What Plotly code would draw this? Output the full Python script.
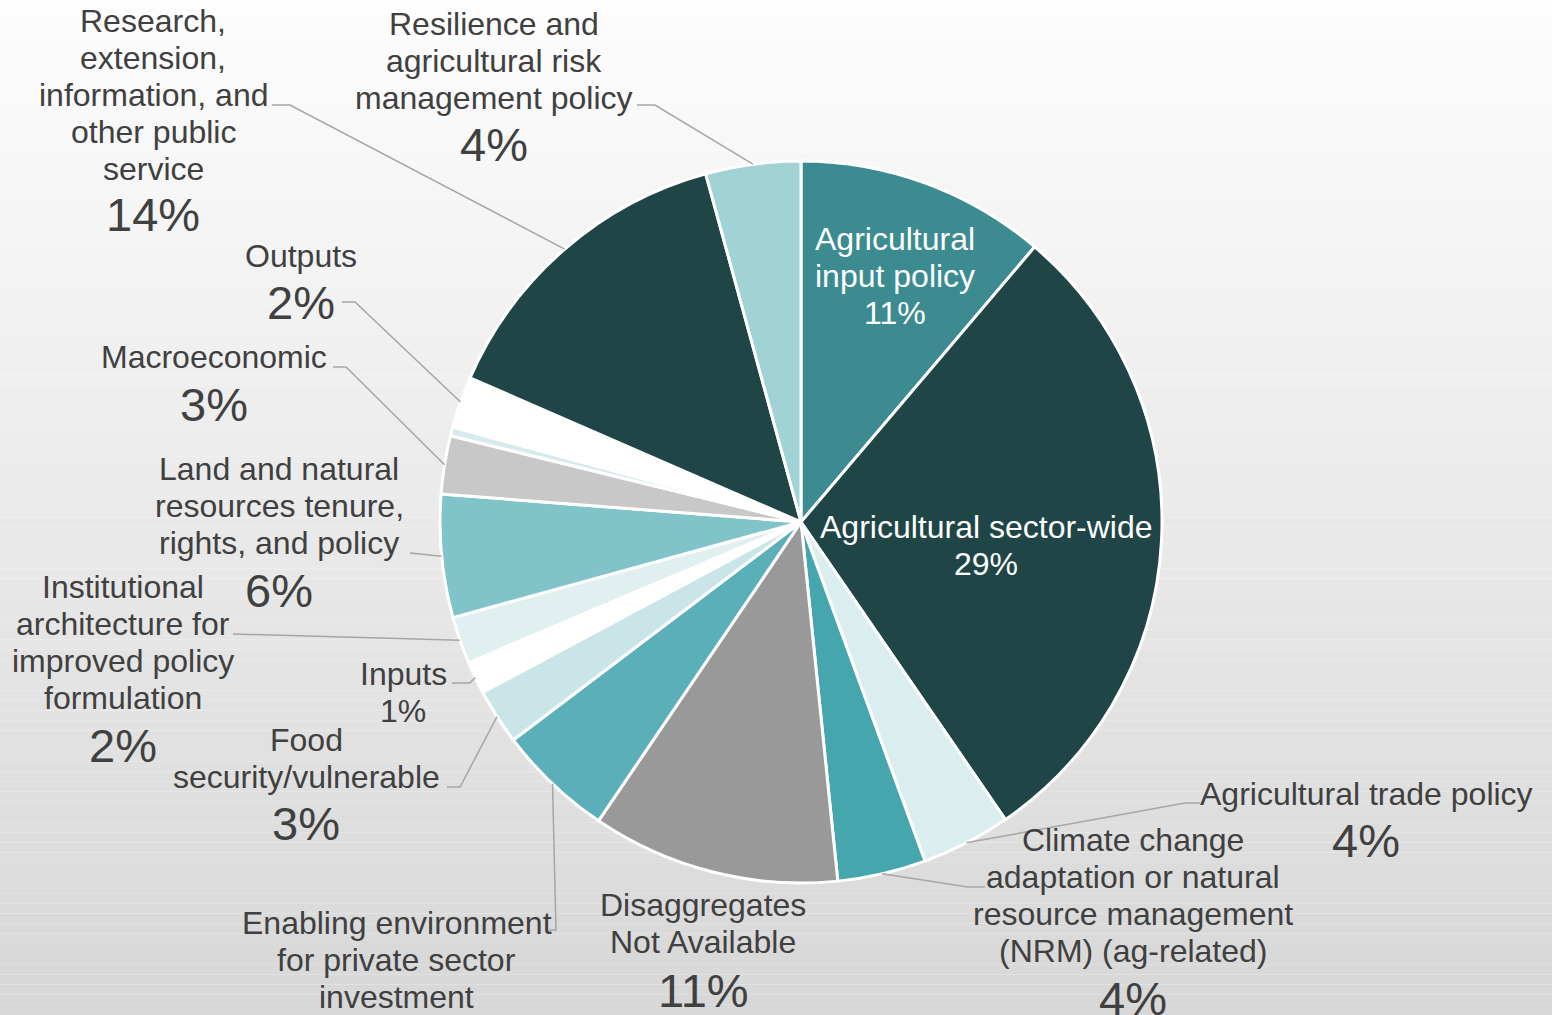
import math
import plotly.graph_objects as go

W, H = 1552, 1015

# slices, clockwise from 12 o'clock
categories = [
    "Agricultural input policy",
    "Agricultural sector-wide",
    "Agricultural trade policy",
    "Climate change adaptation or natural resource management (NRM) (ag-related)",
    "Disaggregates Not Available",
    "Enabling environment for private sector investment",
    "Food security/vulnerable",
    "Inputs",
    "Institutional architecture for improved policy formulation",
    "Land and natural resources tenure, rights, and policy",
    "Macroeconomic",
    "Other",
    "Outputs",
    "Research, extension, information, and other public service",
    "Resilience and agricultural risk management policy",
]
values = [11.2, 29.2, 4.0, 3.95, 11.1, 5.2, 2.5, 1.45, 2.1, 5.5, 2.6, 0.4, 2.3, 14.2, 4.25]

# how the names are wrapped on the chart
display_names = [
    "Agricultural|input policy",
    "Agricultural sector-wide",
    "Agricultural trade policy",
    "Climate change|adaptation or natural|resource management|(NRM) (ag-related)",
    "Disaggregates|Not Available",
    "Enabling environment|for private sector|investment",
    "Food|security/vulnerable",
    "Inputs",
    "Institutional|architecture for|improved policy|formulation",
    "Land and natural|resources tenure,|rights, and policy",
    "Macroeconomic",
    "",
    "Outputs",
    "Research,|extension,|information, and|other public|service",
    "Resilience and|agricultural risk|management policy",
]

colors = ["#3B8B90", "#1F4547", "#DAEDEF", "#46A6AE", "#999999", "#5BAFB8", "#C9E5E8",
          "#FFFFFF", "#E0F0F1", "#80C4CA", "#C8C8C8", "#D6EBEE", "#FFFFFF", "#1F4547", "#A0D2D6"]

# pie placement in pixels
CX, CY, R = 801, 522, 361
TXT = "#404040"
FONT = "Liberation Sans, Arial, sans-serif"

# label placement (pixels): name x, first line y, percent y (None = off the page),
# big percent?, leader line start points
label_pos = {
    0: (895, 239, 313, False, None),
    1: (986, 527, 564, False, None),
    2: (1366, 794, 840, True, [(1200, 803), (1185, 803)]),
    3: (1133, 840, 998, True, [(985, 887), (968, 887)]),
    4: (703, 905, 990, True, None),
    5: (397, 923, None, True, [(549, 930), (556, 930)]),
    6: (306, 740, 823, True, [(447, 787), (460, 787)]),
    7: (403, 674, 711, False, [(452, 683), (470, 683)]),
    8: (123, 587, 745, True, [(233, 634)]),
    9: (279, 469, 590, True, [(410, 553)]),
    10: (214, 357, 404, True, [(333, 367), (346, 367)]),
    12: (301, 256, 302, True, [(342, 302), (355, 302)]),
    13: (153, 21, 214, True, [(272, 105), (290, 105)]),
    14: (494, 24, 145, True, [(637, 105), (655, 105)]),
}


def px(x):
    return x / W


def py(y):
    return 1 - y / H


total = sum(values)

fig = go.Figure(go.Pie(
    labels=categories, values=values, sort=False, direction="clockwise", rotation=0,
    marker=dict(colors=colors, line=dict(color="white", width=3)),
    textinfo="none", hoverinfo="label+percent", showlegend=False,
    domain=dict(x=[px(CX - R), px(CX + R)], y=[py(CY + R), py(CY - R)]),
))

# background gradient
shapes = []
n = 100
for i in range(n):
    g = round(253 - (253 - 215) * i / (n - 1))
    shapes.append(dict(type="rect", xref="paper", yref="paper", layer="below",
                       x0=0, x1=1, y0=1 - (i + 1) / n, y1=1 - i / n,
                       fillcolor=f"rgb({g},{g},{g})", line=dict(width=0)))

annotations = []
cum = 0
for i, v in enumerate(values):
    mid = (cum + v / 2) / total * 360
    cum += v
    if i not in label_pos:
        continue
    x, y0, pct_y, big, leader = label_pos[i]
    color = "white" if i in (0, 1) else TXT
    for k, line in enumerate(display_names[i].split("|")):
        annotations.append(dict(x=px(x), y=py(y0 + 37 * k), xref="paper", yref="paper",
                                text=line, showarrow=False, xanchor="center", yanchor="middle",
                                font=dict(size=32, color=color, family=FONT)))
    if pct_y is not None:
        pct = int(v / total * 100 + 0.5)
        annotations.append(dict(x=px(x), y=py(pct_y), xref="paper", yref="paper",
                                text=f"{pct}%", showarrow=False, xanchor="center", yanchor="middle",
                                font=dict(size=47 if big else 32, color=color, family=FONT)))
    if leader:
        ex = CX + R * math.sin(math.radians(mid))
        ey = CY - R * math.cos(math.radians(mid))
        pts = leader + [(ex, ey)]
        path = "M " + " L ".join(f"{px(a)},{py(b)}" for a, b in pts)
        shapes.append(dict(type="path", path=path, xref="paper", yref="paper",
                           line=dict(color="#A6A6A6", width=1.5)))

fig.update_layout(
    width=W, height=H,
    margin=dict(l=0, r=0, t=0, b=0),
    paper_bgcolor="#FDFDFD",
    shapes=shapes,
    annotations=annotations,
)

fig.write_html("out.html", config={"displayModeBar": False},
               post_script="document.body.style.margin='0';")
